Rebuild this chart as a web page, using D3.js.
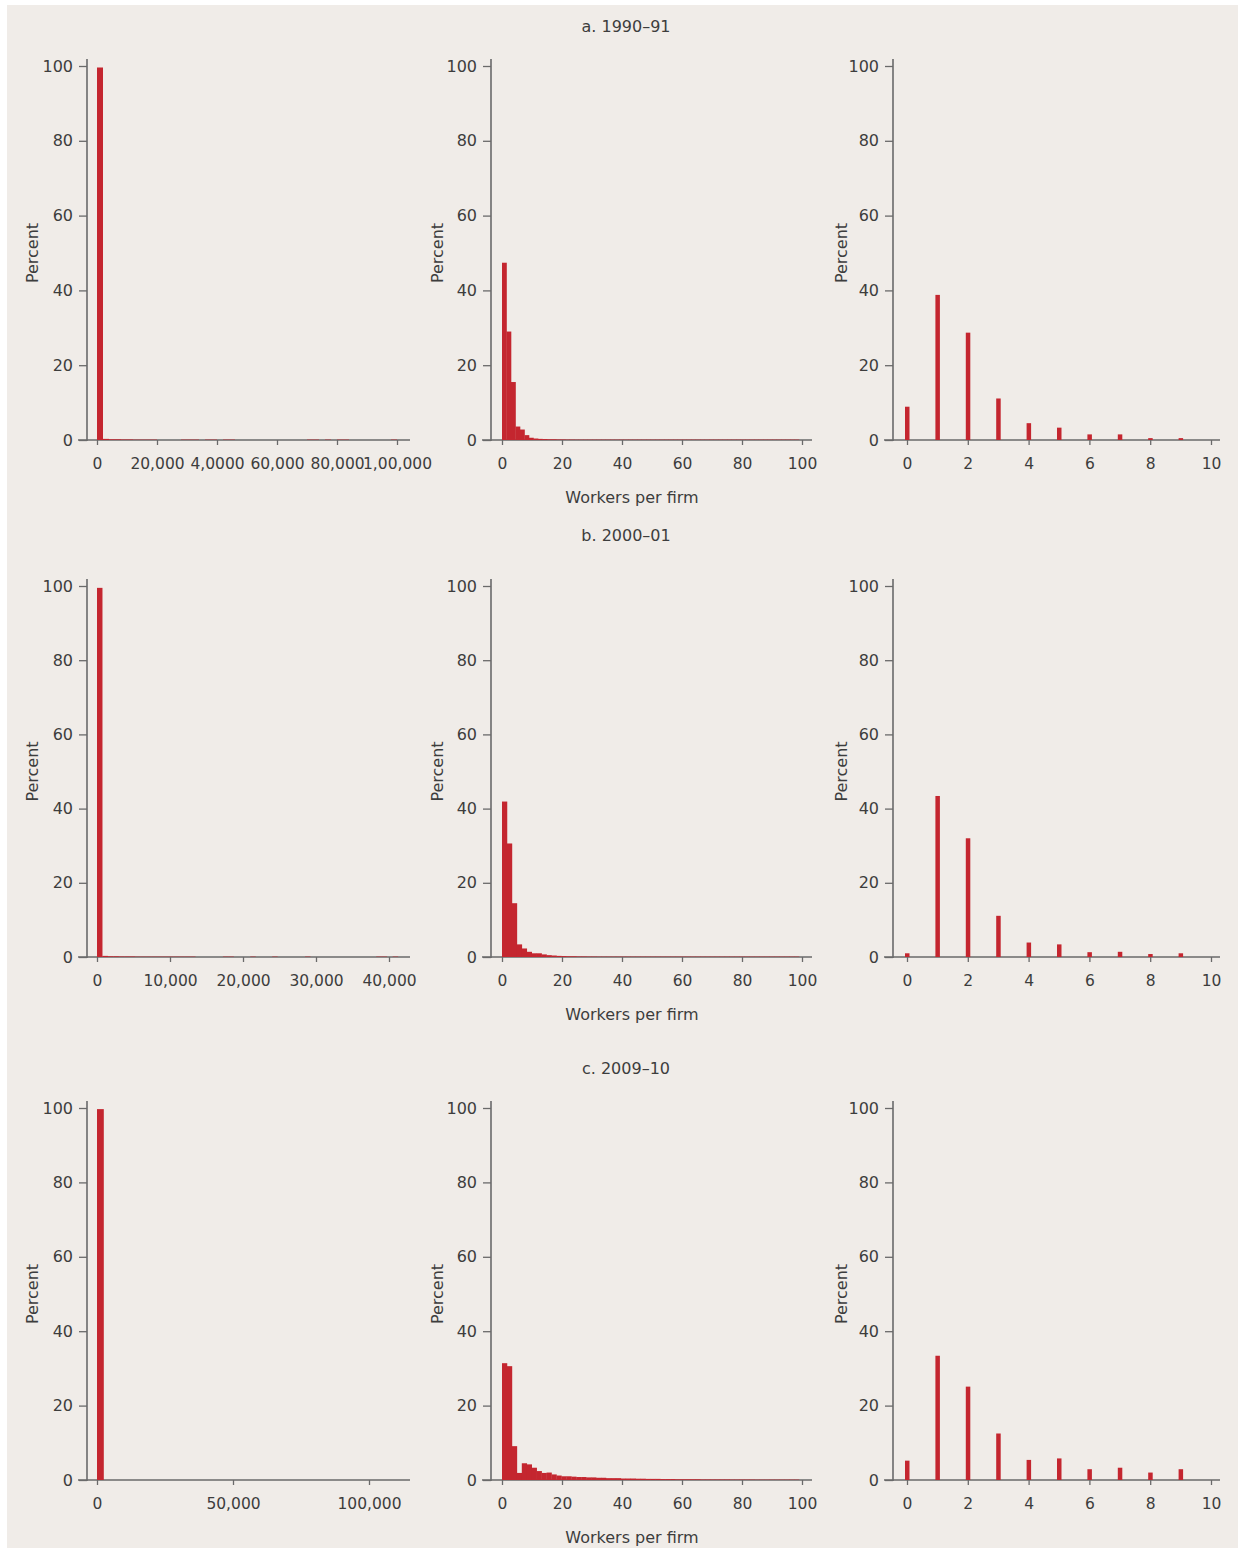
<!DOCTYPE html>
<html><head><meta charset="utf-8">
<script src="https://cdn.jsdelivr.net/npm/d3@7"></script>
<style>
body{margin:0;background:#fff;}
text{font-family:"DejaVu Sans",sans-serif;fill:#3d3d3d;}
</style></head><body>
<svg id="c" width="1244" height="1552"></svg>
<script>
// ---------------- DATA ----------------
const periodTitles = ["a. 1990–91", "b. 2000–01", "c. 2009–10"];
const yTicks = [0, 20, 40, 60, 80, 100];
const xTitle = "Workers per firm";
const yTitle = "Percent";

// Left column: all firm sizes (bin starts + percent)
const leftA_binWidth = 2000;
const leftA_start = [0, 2000, 4000, 6000, 8000, 10000, 12000, 14000, 16000, 18000, 28000, 30000, 32000, 36000, 38000, 42000, 44000, 70000, 72000, 76000, 80000, 82000, 98000];
const leftA_pct   = [99.6, 0.3, 0.2, 0.2, 0.15, 0.15, 0.1, 0.1, 0.1, 0.1, 0.1, 0.1, 0.1, 0.1, 0.1, 0.1, 0.1, 0.1, 0.1, 0.1, 0.1, 0.1, 0.1];
const leftA_ticks = [0, 20000, 40000, 60000, 80000, 100000];
const leftA_tickLabels = ["0", "20,000", "4,0000", "60,000", "80,000", "1,00,000"];

const leftB_binWidth = 750;
const leftB_start = [0, 750, 1500, 2250, 3000, 3750, 4500, 5250, 6000, 6750, 7500, 8250, 9000, 9750, 10500, 11250, 12000, 12750, 17250, 18000, 21000, 24000, 28500, 38250, 39000, 40500];
const leftB_pct   = [99.5, 0.3, 0.2, 0.2, 0.15, 0.15, 0.15, 0.1, 0.1, 0.1, 0.1, 0.1, 0.1, 0.1, 0.1, 0.1, 0.1, 0.1, 0.1, 0.1, 0.1, 0.1, 0.1, 0.1, 0.1, 0.1];
const leftB_ticks = [0, 10000, 20000, 30000, 40000];
const leftB_tickLabels = ["0", "10,000", "20,000", "30,000", "40,000"];

const leftC_binWidth = 2500;
const leftC_start = [0];
const leftC_pct   = [99.7];
const leftC_ticks = [0, 50000, 100000];
const leftC_tickLabels = ["0", "50,000", "100,000"];

// Middle column: firms with up to 100 workers (consecutive bins from 0)
const midA_binWidth = 1.5;
const midA_pct = [47.4, 29.0, 15.5, 3.6, 2.8, 1.3, 0.6, 0.4, 0.3, 0.25, 0.2, 0.2, 0.15, 0.15, 0.12, 0.12, 0.1, 0.1, 0.1, 0.1,
  0.1, 0.1, 0.1, 0.1, 0.1, 0.1, 0.1, 0.1, 0.1, 0.1, 0.1, 0.1, 0.1, 0.1, 0.1, 0.1, 0.1, 0.1, 0.1, 0.1,
  0.1, 0.1, 0.1, 0.1, 0.1, 0.1, 0.1, 0.1, 0.1, 0.1, 0.1, 0.1, 0.1, 0.1, 0.1, 0.1, 0.1, 0.1, 0.1, 0.1,
  0.1, 0.1, 0.1, 0.1, 0.1, 0.1];
const midB_binWidth = 1.65;
const midB_pct = [41.9, 30.6, 14.5, 3.4, 2.3, 1.4, 1.0, 1.0, 0.7, 0.5, 0.4, 0.3, 0.25, 0.2, 0.2, 0.15, 0.15, 0.12, 0.12, 0.1,
  0.1, 0.1, 0.1, 0.1, 0.1, 0.1, 0.1, 0.1, 0.1, 0.1, 0.1, 0.1, 0.1, 0.1, 0.1, 0.1, 0.1, 0.1, 0.1, 0.1,
  0.1, 0.1, 0.1, 0.1, 0.1, 0.1, 0.1, 0.1, 0.1, 0.1, 0.1, 0.1, 0.1, 0.1, 0.1, 0.1, 0.1, 0.1, 0.1, 0.1];
const midC_binWidth = 1.65;
const midC_pct = [31.4, 30.6, 9.1, 1.9, 4.5, 4.2, 3.3, 2.4, 1.9, 2.0, 1.5, 1.2, 1.0, 1.0, 0.9, 0.8, 0.8, 0.7, 0.7, 0.6,
  0.6, 0.5, 0.5, 0.5, 0.4, 0.4, 0.4, 0.35, 0.35, 0.3, 0.3, 0.3, 0.25, 0.25, 0.25, 0.2, 0.2, 0.2, 0.2, 0.2,
  0.15, 0.15, 0.15, 0.15, 0.15, 0.15, 0.12, 0.12, 0.12, 0.12, 0.12, 0.1, 0.1, 0.1, 0.1, 0.1, 0.1, 0.1, 0.1, 0.1];
const midTicks = [0, 20, 40, 60, 80, 100];

// Right column: firms with fewer than 10 workers (one bar per worker count)
const rightCounts = [0, 1, 2, 3, 4, 5, 6, 7, 8, 9];
const rightA_pct = [8.9, 38.8, 28.7, 11.1, 4.5, 3.3, 1.5, 1.5, 0.5, 0.5];
const rightB_pct = [1.0, 43.4, 32.0, 11.1, 3.9, 3.4, 1.3, 1.4, 0.8, 1.0];
const rightC_pct = [5.2, 33.4, 25.1, 12.5, 5.4, 5.8, 2.9, 3.3, 2.0, 2.9];
const rightTicks = [0, 2, 4, 6, 8, 10];

// ---------------- LAYOUT ----------------
const RED = "#c4262f", AXIS = "#6a6a6a", BG = "#f0ece8", TXT = "#3d3d3d";
const svg = d3.select("#c");
svg.append("rect").attr("x", 7).attr("y", 5).attr("width", 1231).attr("height", 1543).attr("fill", BG);

const rows = [
  {y0: 440, y100: 66, titleY: 32, xlabY: 503},
  {y0: 957, y100: 586, titleY: 541, xlabY: 1020},
  {y0: 1480, y100: 1108, titleY: 1074, xlabY: 1543}
];
const cols = [
  {axX: 87, lineL: 78, lineR: 410, titleX: 32},
  {axX: 491, lineL: 482, lineR: 812, titleX: 437},
  {axX: 893, lineL: 884, lineR: 1220, titleX: 841}
];

const leftSets = [
  {bw: leftA_binWidth, start: leftA_start, pct: leftA_pct, ticks: leftA_ticks, labels: leftA_tickLabels, dom: [0, 100000], rng: [97, 397]},
  {bw: leftB_binWidth, start: leftB_start, pct: leftB_pct, ticks: leftB_ticks, labels: leftB_tickLabels, dom: [0, 40000], rng: [97, 389]},
  {bw: leftC_binWidth, start: leftC_start, pct: leftC_pct, ticks: leftC_ticks, labels: leftC_tickLabels, dom: [0, 100000], rng: [97, 369]}
];
const midSets = [
  {bw: midA_binWidth, pct: midA_pct},
  {bw: midB_binWidth, pct: midB_pct},
  {bw: midC_binWidth, pct: midC_pct}
];
const rightSets = [rightA_pct, rightB_pct, rightC_pct];

function drawFrame(g, row, col, x, ticks, labels) {
  const y = d3.scaleLinear().domain([0, 100]).range([row.y0, row.y100]);
  g.append("line").attr("x1", col.axX).attr("x2", col.axX).attr("y1", row.y100 - 7).attr("y2", row.y0 + 1)
    .attr("stroke", AXIS).attr("stroke-width", 1.6);
  g.append("line").attr("x1", col.lineL).attr("x2", col.lineR).attr("y1", row.y0).attr("y2", row.y0)
    .attr("stroke", AXIS).attr("stroke-width", 1.6);
  const ya = g.append("g").attr("transform", `translate(${col.axX},0)`)
    .call(d3.axisLeft(y).tickValues(yTicks).tickSize(8).tickPadding(6).tickSizeOuter(0));
  ya.select(".domain").remove();
  ya.selectAll("line").attr("stroke", AXIS).attr("stroke-width", 1.3);
  ya.selectAll("text").style("font-size", "16px").style("font-family", "DejaVu Sans").attr("fill", TXT);
  const xa = g.append("g").attr("transform", `translate(0,${row.y0})`)
    .call(d3.axisBottom(x).tickValues(ticks).tickSize(5).tickPadding(13).tickSizeOuter(0)
      .tickFormat((d, i) => labels ? labels[i] : d));
  xa.select(".domain").remove();
  xa.selectAll("line").attr("stroke", AXIS).attr("stroke-width", 1.3);
  xa.selectAll("text").style("font-size", "15.5px").style("font-family", "DejaVu Sans").attr("fill", TXT);
  g.append("text").attr("transform", `translate(${col.titleX + 6},${(row.y0 + row.y100) / 2}) rotate(-90)`)
    .attr("text-anchor", "middle").style("font-size", "16px").text(yTitle);
  return y;
}

rows.forEach((row, r) => {
  svg.append("text").attr("x", 626).attr("y", row.titleY).attr("text-anchor", "middle")
    .style("font-size", "16px").text(periodTitles[r]);
  svg.append("text").attr("x", 632).attr("y", row.xlabY).attr("text-anchor", "middle")
    .style("font-size", "16px").text(xTitle);

  const L = leftSets[r];
  const gL = svg.append("g");
  const xL = d3.scaleLinear().domain(L.dom).range(L.rng);
  const yL = drawFrame(gL, row, cols[0], xL, L.ticks, L.labels);
  gL.selectAll("rect.bar").data(L.start.map((s, i) => ({s, v: L.pct[i]}))).join("rect")
    .attr("class", "bar")
    .attr("x", d => xL(d.s)).attr("width", d => xL(d.s + L.bw) - xL(d.s))
    .attr("y", d => yL(d.v)).attr("height", d => row.y0 - yL(d.v)).attr("fill", RED);

  const M = midSets[r];
  const gM = svg.append("g");
  const xM = d3.scaleLinear().domain([0, 100]).range([502, 802]);
  const yM = drawFrame(gM, row, cols[1], xM, midTicks, null);
  gM.selectAll("rect.bar").data(M.pct.map((v, i) => ({s: i * M.bw, v}))).join("rect")
    .attr("class", "bar")
    .attr("x", d => xM(d.s)).attr("width", d => xM(d.s + M.bw) - xM(d.s) + 0.3)
    .attr("y", d => yM(d.v)).attr("height", d => row.y0 - yM(d.v)).attr("fill", RED);

  const R = rightSets[r];
  const gR = svg.append("g");
  const xR = d3.scaleLinear().domain([0, 10]).range([907, 1211]);
  const yR = drawFrame(gR, row, cols[2], xR, rightTicks, null);
  gR.selectAll("rect.bar").data(rightCounts.map((c, i) => ({c, v: R[i]}))).join("rect")
    .attr("class", "bar")
    .attr("x", d => xR(d.c) - 2).attr("width", 4.5)
    .attr("y", d => yR(d.v)).attr("height", d => row.y0 - yR(d.v)).attr("fill", RED);
});
</script>
</body></html>
